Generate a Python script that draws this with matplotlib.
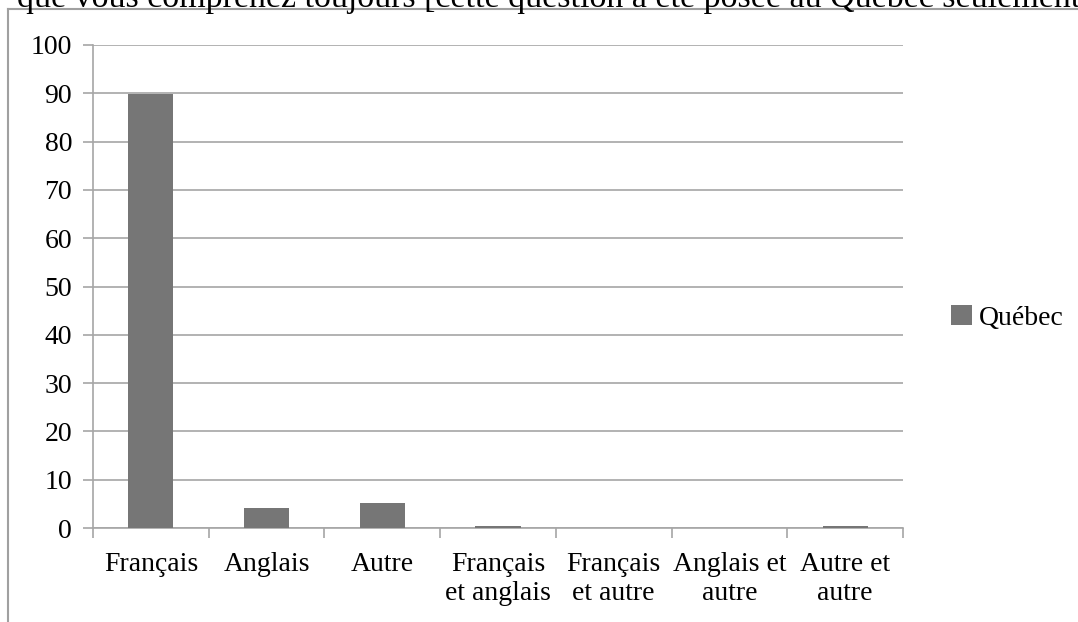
import matplotlib
matplotlib.use("Agg")
import matplotlib.pyplot as plt
from matplotlib.lines import Line2D
from matplotlib.patches import Patch
import numpy as np

categories = ["Français", "Anglais", "Autre", "Français\net anglais",
              "Français\net autre", "Anglais et\nautre", "Autre et\nautre"]
quebec = [89.8, 4.1, 5.1, 0.5, 0.1, 0.1, 0.4]
series_name = "Québec"
title_text = "que vous comprenez toujours [cette question a été posée au Québec seulement"

plt.rcParams["font.family"] = ["Liberation Serif", "DejaVu Serif"]

W, H = 1078, 622
fig = plt.figure(figsize=(W / 100, H / 100), dpi=100)
ax = fig.add_axes([93 / W, 1 - 528 / H, (903 - 93) / W, (528 - 45) / H])

bar_color = "#767676"
grid_color = "#a6a6a6"

x = np.arange(len(categories))
ax.bar(x, quebec, width=0.39, color=bar_color, zorder=3, label=series_name)

ax.set_xlim(-0.5, len(categories) - 0.5)
ax.set_ylim(0, 100)
ax.set_yticks(np.arange(0, 101, 10))
ax.yaxis.grid(True, color=grid_color, linewidth=1.2, zorder=0)
ax.set_axisbelow(True)

for side in ("top", "right"):
    ax.spines[side].set_visible(False)
for side in ("left", "bottom"):
    ax.spines[side].set_color(grid_color)
    ax.spines[side].set_linewidth(1.2)

# category labels sit between boundary ticks
ax.set_xticks(np.arange(-0.5, len(categories), 1.0))
ax.set_xticklabels([])
ax.set_xticks(x, minor=True)
ax.set_xticklabels(categories, minor=True, fontsize=20, linespacing=1.25)
ax.tick_params(axis="x", which="minor", length=0, pad=17)
ax.tick_params(axis="x", which="major", length=7, color=grid_color, width=1.2, direction="out")
ax.tick_params(axis="y", length=7, color=grid_color, width=1.2, labelsize=20, pad=8)

handles = [Patch(facecolor=bar_color, edgecolor="none")]
fig.legend(handles, [series_name], loc="center left",
           bbox_to_anchor=(951 / W, 1 - 318 / H), frameon=False,
           fontsize=20, handlelength=0.75, handleheight=0.75, handletextpad=0.25,
           borderpad=0, borderaxespad=0)

# outer frame lines
fig.add_artist(Line2D([8 / W, 8 / W], [0, 1 - 9 / H], transform=fig.transFigure,
                      color="#a0a0a0", linewidth=1.5))
fig.add_artist(Line2D([8 / W, 1], [1 - 9 / H, 1 - 9 / H], transform=fig.transFigure,
                      color="#a0a0a0", linewidth=1.5))

fig.text(17 / W, 1 - 7 / H, title_text, fontsize=24.5, va="baseline", ha="left")

fig.savefig("out.png", dpi=100)
